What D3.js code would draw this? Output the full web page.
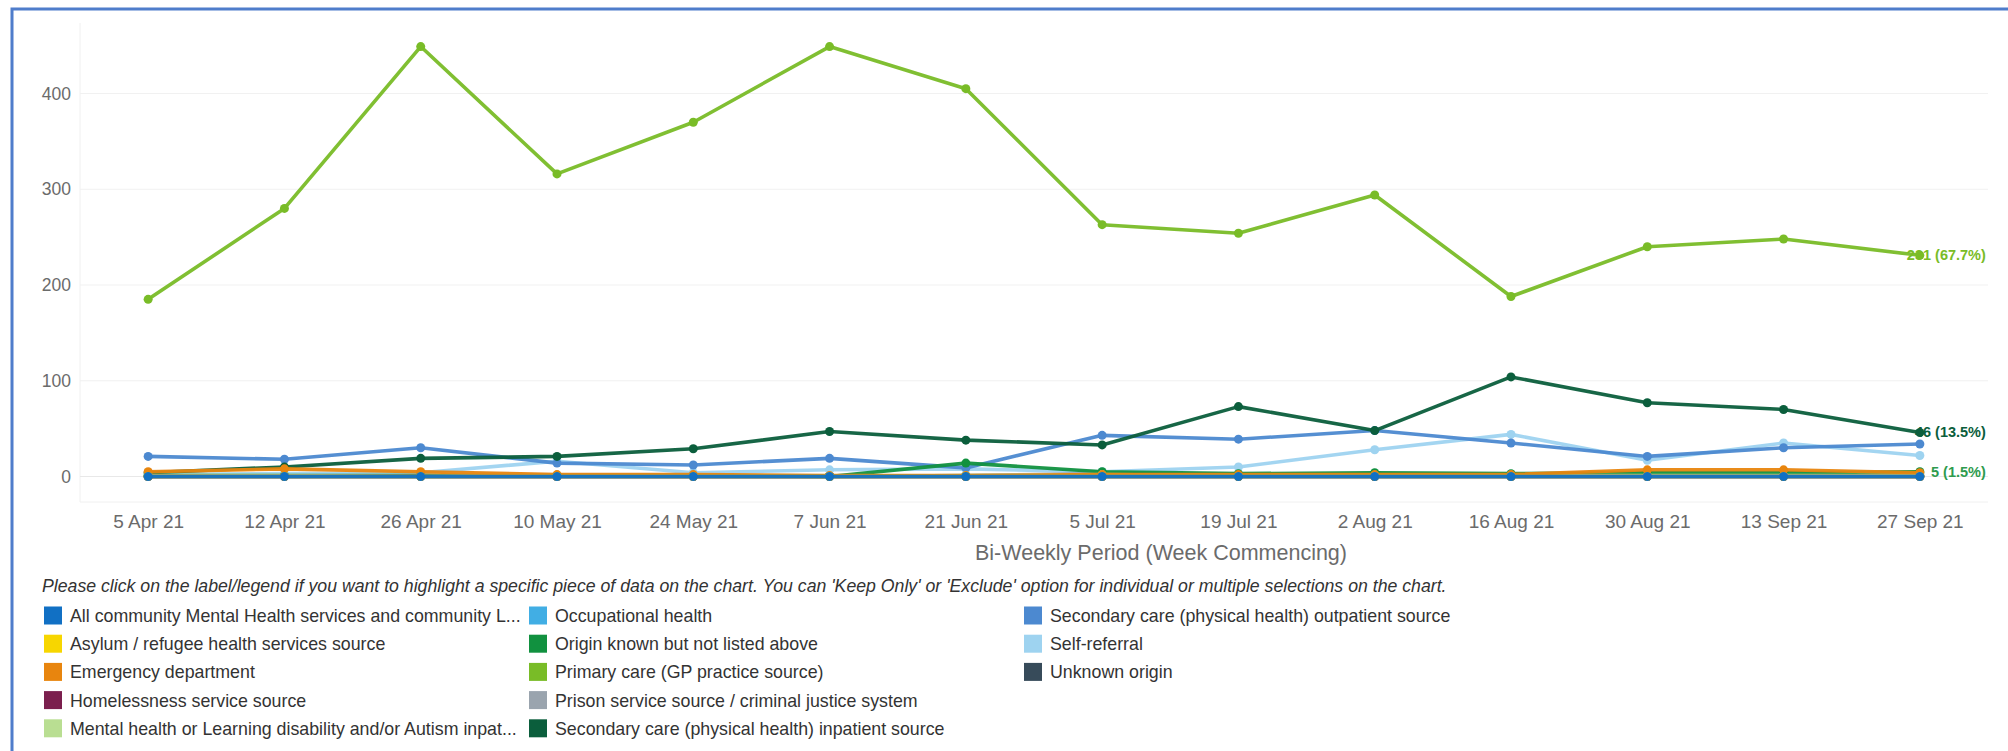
<!DOCTYPE html>
<html>
<head>
<meta charset="utf-8">
<script src="https://cdn.jsdelivr.net/npm/d3@7"></script>
<style>
html,body{margin:0;padding:0;background:#fff;}
svg{display:block;font-family:"Liberation Sans",Arial,sans-serif;}
</style>
</head>
<body>
<svg id="chart" width="2008" height="751"></svg>
<script>
// ---- data ----
const periods = ["5 Apr 21","12 Apr 21","26 Apr 21","10 May 21","24 May 21","7 Jun 21","21 Jun 21","5 Jul 21","19 Jul 21","2 Aug 21","16 Aug 21","30 Aug 21","13 Sep 21","27 Sep 21"];
const yTicks = [0, 100, 200, 300, 400];

const allCommunity   = [0,0,0,0,0,0,0,0,0,0,0,0,0,0];
const asylum         = [0,0,0,0,0,0,0,0,0,0,0,0,0,0];
const emergency      = [5,8,5,2,2,1,1,2,2,2,2,7,7,4];
const homelessness   = [0,0,0,0,0,0,0,0,0,0,0,0,0,0];
const mhLdInpatient  = [1,1,0,1,1,0,1,2,1,1,1,1,1,1];
const occupational   = [0,0,0,0,0,0,0,0,0,0,0,0,0,0];
const originKnown    = [1,1,1,1,1,0,14,5,3,4,3,4,4,5];
const primaryCare    = [185,280,449,316,370,449,405,263,254,294,188,240,248,231];
const prison         = [0,0,1,0,0,0,1,3,2,1,1,1,1,1];
const secInpatient   = [4,10,19,21,29,47,38,33,73,48,104,77,70,46];
const secOutpatient  = [21,18,30,14,12,19,9,43,39,48,35,21,30,34];
const selfReferral   = [2,3,4,16,4,7,8,5,10,28,44,17,35,22];
const unknownOrigin  = [0,0,0,0,0,0,0,0,0,0,0,0,0,0];

const seriesNames = [
  "All community Mental Health services and community L...",
  "Asylum / refugee health services source",
  "Emergency department",
  "Homelessness service source",
  "Mental health or Learning disability and/or Autism inpat...",
  "Occupational health",
  "Origin known but not listed above",
  "Primary care (GP practice source)",
  "Prison service source / criminal justice system",
  "Secondary care (physical health) inpatient source",
  "Secondary care (physical health) outpatient source",
  "Self-referral",
  "Unknown origin"
];
const seriesValues = [allCommunity, asylum, emergency, homelessness, mhLdInpatient, occupational,
  originKnown, primaryCare, prison, secInpatient, secOutpatient, selfReferral, unknownOrigin];
const seriesColors = ["#1170C4","#F7D600","#E8850E","#7B1F4E","#B9DE92","#41AEE4",
  "#11913F","#79BC27","#9AA4AE","#0B5E3C","#4C89D0","#9ED3F0","#374B5A"];
// series with end labels (percent of period total)
const labelledSeries = ["Primary care (GP practice source)","Secondary care (physical health) inpatient source","Origin known but not listed above"];
const labelPercents = [67.7, 13.5, 1.5];
const labelColors = ["#79BC27","#0B5E3C","#2E9B4E"];

const axisTitle = "Bi-Weekly Period (Week Commencing)";
const note = "Please click on the label/legend if you want to highlight a specific piece of data on the chart. You can 'Keep Only' or 'Exclude' option for individual or multiple selections on the chart.";

// ---- drawing ----
const svg = d3.select("#chart");

// frame
svg.append("rect").attr("x",12).attr("y",9).attr("width",2040).attr("height",800)
  .attr("fill","none").attr("stroke","#4F7DCB").attr("stroke-width",3);

const plot = {left:80, right:1988, top:23, bottom:502};
const x = d3.scalePoint().domain(periods).range([plot.left, plot.right]).padding(0.5);
const y = d3.scaleLinear().domain([-26.6, 473.6]).range([plot.bottom, plot.top]);

// plot edges
svg.append("line").attr("x1",plot.left).attr("x2",plot.left).attr("y1",plot.top).attr("y2",plot.bottom)
  .attr("stroke","#f0f0f0").attr("stroke-width",1);
svg.append("line").attr("x1",plot.left).attr("x2",plot.right).attr("y1",plot.bottom).attr("y2",plot.bottom)
  .attr("stroke","#f0f0f0").attr("stroke-width",1);

// gridlines
svg.append("g").selectAll("line").data(yTicks).join("line")
  .attr("x1",plot.left).attr("x2",plot.right)
  .attr("y1",d=>y(d)).attr("y2",d=>y(d))
  .attr("stroke",d=> d===0 ? "#e8e8e8" : "#f1f1f1").attr("stroke-width",1);

// y axis
const yAxis = d3.axisLeft(y).tickValues(yTicks).tickSize(0).tickPadding(9);
const gy = svg.append("g").attr("transform",`translate(${plot.left},0)`).call(yAxis);
gy.select(".domain").remove();
gy.selectAll("text").attr("fill","#6b6b6b").style("font-size","17.5px")
  .attr("font-family","'Liberation Sans',Arial,sans-serif");

// x axis
const xAxis = d3.axisBottom(x).tickSize(0).tickPadding(13);
const gx = svg.append("g").attr("transform",`translate(0,${plot.bottom})`).call(xAxis);
gx.select(".domain").remove();
gx.selectAll("text").attr("fill","#6b6b6b").style("font-size","19px")
  .attr("font-family","'Liberation Sans',Arial,sans-serif");

svg.append("text").attr("x",1161).attr("y",560).attr("text-anchor","middle")
  .attr("fill","#6b6b6b").style("font-size","21.5px").text(axisTitle);

// lines (drawn in reverse legend order)
const line = d3.line().x((d,i)=>x(periods[i])).y(d=>y(d));
const order = d3.range(seriesNames.length).reverse();
const g = svg.append("g");
order.forEach(k=>{
  const vals = seriesValues[k];
  g.append("path").datum(vals).attr("d",line).attr("fill","none")
    .attr("stroke",seriesColors[k]).attr("stroke-width",3.6)
    .attr("stroke-linejoin","round").attr("opacity",0.95);
  g.selectAll(null).data(vals).join("circle")
    .attr("cx",(d,i)=>x(periods[i])).attr("cy",d=>y(d)).attr("r",4.5)
    .attr("fill",seriesColors[k]);
});

// end labels
const last = periods[periods.length-1];
labelledSeries.forEach((name,j)=>{
  const k = seriesNames.indexOf(name);
  const v = seriesValues[k][periods.length-1];
  svg.append("text").attr("x",x(last)+66).attr("y",y(v)+5).attr("text-anchor","end")
    .attr("fill",labelColors[j]).style("font-size","14.5px").style("font-weight","bold")
    .text(`${v} (${labelPercents[j]}%)`);
});

// note
svg.append("text").attr("x",42).attr("y",592).attr("fill","#333")
  .style("font-size","17.7px").style("font-style","italic").text(note);

// legend
const colX = [44, 529, 1024];
const rowY0 = 615.5, rowStep = 28.2, perCol = 5;
const leg = svg.append("g").selectAll("g").data(seriesNames).join("g")
  .attr("transform",(d,i)=>`translate(${colX[Math.floor(i/perCol)]},${rowY0 + (i%perCol)*rowStep})`);
leg.append("rect").attr("x",0).attr("y",-9).attr("width",18).attr("height",18)
  .attr("fill",(d,i)=>seriesColors[i]);
leg.append("text").attr("x",26).attr("y",6.5).attr("fill","#333")
  .style("font-size","17.8px").text(d=>d);
</script>
</body>
</html>
